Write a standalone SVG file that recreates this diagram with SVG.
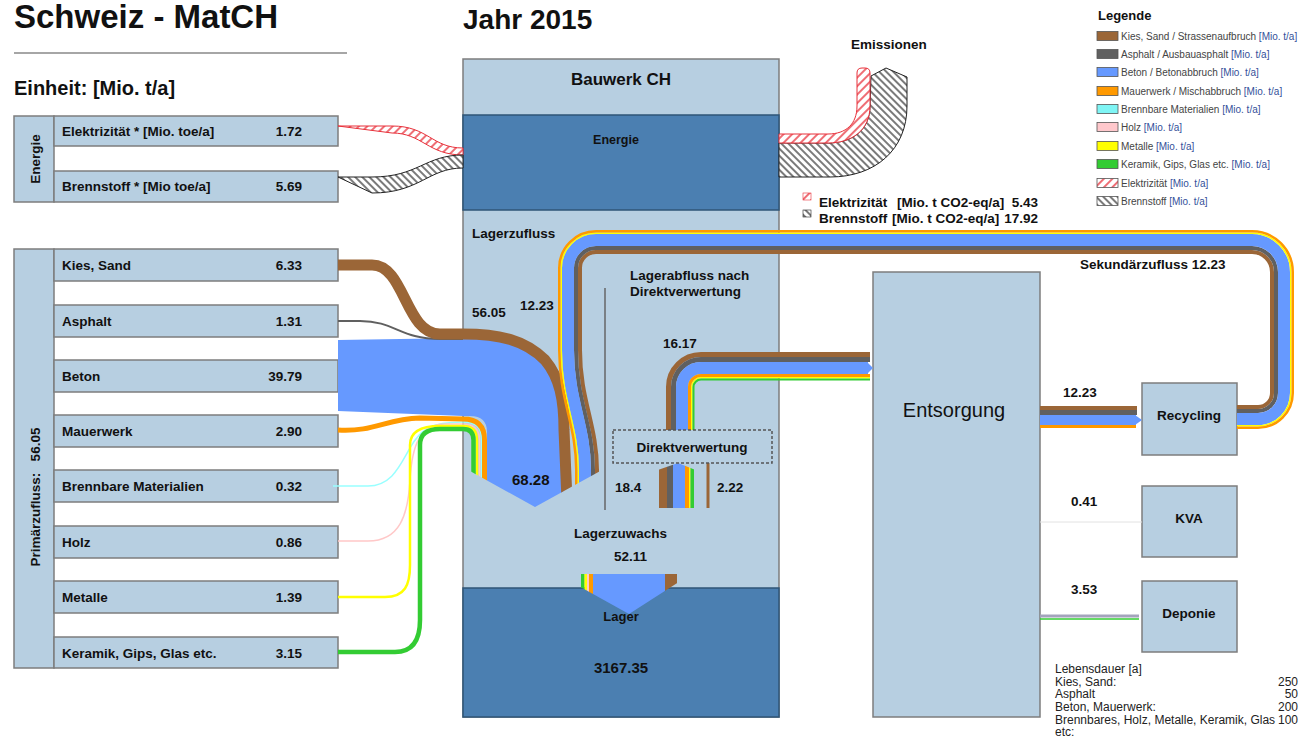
<svg xmlns="http://www.w3.org/2000/svg" width="1305" height="741" viewBox="0 0 1305 741">
<defs>
<style>
text{font-family:'Liberation Sans',Arial,sans-serif;fill:#111}
.b{font-weight:bold;font-size:13.5px}
.node{fill:#b7cfe1;stroke:#7d7d7d;stroke-width:1.5}
.dark{fill:#4b7fb1;stroke:#2f5577;stroke-width:1.5}
.f{fill:none}
.kies{stroke:#9b6637}
.asph{stroke:#606060}
.beton{stroke:#6699ff}
.mauer{stroke:#ff9900}
.brenn{stroke:#99ffff}
.holz{stroke:#ffc8c8}
.met{stroke:#ffff00}
.ker{stroke:#33cc33}
.lg{font-size:10px;fill:#444}
.lg tspan{fill:#34509a}
.lw{font-size:12px;fill:#222}
.sw{stroke:#555;stroke-width:0.8}
</style>
<pattern id="hatchR" patternUnits="userSpaceOnUse" width="6" height="6" patternTransform="rotate(45)">
<rect width="6" height="6" fill="#fff"/><line x1="1" y1="0" x2="1" y2="6" stroke="#e8303a" stroke-width="1.4"/>
</pattern>
<pattern id="hatchK" patternUnits="userSpaceOnUse" width="5" height="5" patternTransform="rotate(-45)">
<rect width="5" height="5" fill="#fff"/><line x1="1" y1="0" x2="1" y2="5" stroke="#222" stroke-width="1.2"/>
</pattern>
<clipPath id="funnel"><polygon points="330,200 640,200 640,449 535,507 470,471 440,455 440,741 330,741"/></clipPath>
<clipPath id="loopclip"><polygon points="540,0 1305,0 1305,741 700,741 700,416 535,507"/></clipPath>
<clipPath id="zuwachs"><polygon points="575,570 685,570 685,578 629,614 575,584"/></clipPath>
<clipPath id="direkt"><polygon points="655,471 678,463 698,471 698,510 655,510"/></clipPath>
</defs>
<rect width="1305" height="741" fill="#fff"/>

<g id="header">
<text x="14" y="28" font-size="33" font-weight="bold">Schweiz - MatCH</text>
<line x1="14" y1="53" x2="347" y2="53" stroke="#888" stroke-width="1.5"/>
<text x="14" y="95" font-size="20" font-weight="bold">Einheit: [Mio. t/a]</text>
<text x="463" y="29" font-size="28" font-weight="bold">Jahr 2015</text>
</g>

<g id="energie-panel">
<rect class="node" x="14" y="116" width="40" height="86"/>
<text class="b" transform="translate(40,159) rotate(-90)" text-anchor="middle">Energie</text>
<rect class="node" x="54" y="116" width="284" height="30"/>
<text class="b" x="62" y="136">Elektrizität * [Mio. toe/a]</text>
<text class="b" x="302" y="136" text-anchor="end">1.72</text>
<rect class="node" x="54" y="171" width="284" height="31"/>
<text class="b" x="62" y="191">Brennstoff * [Mio toe/a]</text>
<text class="b" x="302" y="191" text-anchor="end">5.69</text>
</g>

<g id="primaer-panel">
<rect class="node" x="14" y="249" width="40" height="419"/>
<text class="b" transform="translate(40,497) rotate(-90)" text-anchor="middle" style="white-space:pre">Primärzufluss:   56.05</text>
<g id="row-kies"><rect class="node" x="54" y="249" width="284" height="32"/><text class="b" x="62" y="270">Kies, Sand</text><text class="b" x="302" y="270" text-anchor="end">6.33</text></g>
<g id="row-asphalt"><rect class="node" x="54" y="305" width="284" height="32"/><text class="b" x="62" y="326">Asphalt</text><text class="b" x="302" y="326" text-anchor="end">1.31</text></g>
<g id="row-beton"><rect class="node" x="54" y="360" width="284" height="32"/><text class="b" x="62" y="381">Beton</text><text class="b" x="302" y="381" text-anchor="end">39.79</text></g>
<g id="row-mauerwerk"><rect class="node" x="54" y="415" width="284" height="32"/><text class="b" x="62" y="436">Mauerwerk</text><text class="b" x="302" y="436" text-anchor="end">2.90</text></g>
<g id="row-brennbar"><rect class="node" x="54" y="470" width="284" height="32"/><text class="b" x="62" y="491">Brennbare Materialien</text><text class="b" x="302" y="491" text-anchor="end">0.32</text></g>
<g id="row-holz"><rect class="node" x="54" y="526" width="284" height="32"/><text class="b" x="62" y="547">Holz</text><text class="b" x="302" y="547" text-anchor="end">0.86</text></g>
<g id="row-metalle"><rect class="node" x="54" y="581" width="284" height="32"/><text class="b" x="62" y="602">Metalle</text><text class="b" x="302" y="602" text-anchor="end">1.39</text></g>
<g id="row-keramik"><rect class="node" x="54" y="637" width="284" height="31"/><text class="b" x="62" y="658">Keramik, Gips, Glas etc.</text><text class="b" x="302" y="658" text-anchor="end">3.15</text></g>
</g>

<g id="bauwerk">
<rect class="node" x="463" y="59" width="316" height="658"/>
<rect class="dark" x="463" y="115" width="316" height="95"/>
<rect class="dark" x="463" y="588" width="316" height="129"/>
<text x="621" y="85" font-size="17" font-weight="bold" text-anchor="middle">Bauwerk CH</text>
<text x="616" y="144" font-size="12.5" font-weight="bold" text-anchor="middle">Energie</text>
</g>

<g id="entsorgung"><rect class="node" x="873" y="272" width="167" height="445"/><text x="954" y="417" font-size="20" text-anchor="middle">Entsorgung</text></g>
<g id="recycling"><rect class="node" x="1142" y="383" width="95" height="72"/><text class="b" x="1189" y="420" text-anchor="middle">Recycling</text></g>
<g id="kva"><rect class="node" x="1142" y="486" width="95" height="71"/><text class="b" x="1189" y="523" text-anchor="middle">KVA</text></g>
<g id="deponie"><rect class="node" x="1142" y="581" width="95" height="71"/><text class="b" x="1189" y="618" text-anchor="middle">Deponie</text></g>

<g id="connectors">
<!-- energy inputs -->
<path fill="url(#hatchR)" stroke="#e8303a" stroke-width="1" d="M338,126 L392,126 C428,126 432,148 463,148 L463,155 C428,155 422,133 392,133 Z"/>
<path fill="url(#hatchK)" stroke="#222" stroke-width="1" d="M338,177 L372,177 C418,177 425,155 463,155 L463,168 C428,168 420,193 372,193 Z"/>
<!-- emissions -->
<path fill="url(#hatchK)" stroke="#222" stroke-width="1" d="M779,143 L828,143 C852,143 870,130 870,106 L871,76 L886,68 L907,77 L907,106 C907,150 875,177 830,177 L779,177 Z"/>
<path fill="url(#hatchR)" stroke="#e8303a" stroke-width="1" d="M779,134 L828,134 C846,134 857,124 857,106 L857,73 Q857,68 862,68 L865,68 Q870,68 870,73 L870,106 C870,130 852,143 828,143 L779,143 Z"/>

<!-- primary inflows and Lagerzufluss funnel -->
<g clip-path="url(#funnel)">
<path fill="#6699ff" d="M338,340 L463,338 C500,338 522,344 540,362 C555,378 561,400 561,430 L564,500 L535,520 L487,495 L487,432 Q487,416 470,416 L463,416 L338,411 Z"/>
<path class="f brenn" stroke-width="1.5" d="M333,486 L368,486 C392,486 400,465 410,448 C420,430 430,422 463,422 Q481.5,422 481.5,438 L481.5,500"/>
<path class="f holz" stroke-width="1.5" d="M338,541 L368,541 C400,541 408,515 410,480 C412,445 420,424 445,424 L463,424 Q479.5,424 479.5,440 L479.5,500"/>
<path class="f met" stroke-width="2.5" d="M338,597 L385,597 C405,597 410,585 410,565 L410,445 C410,432 420,426 440,426 L463,426 Q477,426 477,440 L477,500"/>
<path class="f ker" stroke-width="4.5" d="M338,652 L395,652 C413,652 420,640 420,620 L420,445 C420,434 427,429 440,429 L463,429 Q473.5,429 473.5,440 L473.5,500"/>
<path class="f mauer" stroke-width="5" d="M338,430 C375,432 385,419 420,418 L463,419 Q484.5,419 484.5,440 L484.5,500"/>
<path class="f asph" stroke-width="2" d="M338,321 L360,321 C395,321 400,339 440,339 L463,339"/>
<path class="f kies" stroke-width="11" d="M338,265 L372,265 C405,265 405,334 440,334 L463,334 C500,334 525,340 545,360 C560,378 564,400 564,430 L567,500"/>
</g>

<!-- Sekundärzufluss loop -->
<g clip-path="url(#loopclip)">
<path class="f kies" stroke-width="4" d="M1237,407 L1258,407 A14,14 0 0 0 1272,393 L1272,272 A20,20 0 0 0 1252,252 L596,252 A16,16 0 0 0 580,268 L580,350 C580,400 597,425 597,470 L597,520"/>
<path class="f asph" stroke-width="4" d="M1237,411 L1258,411 A18,18 0 0 0 1276,393 L1276,272 A24,24 0 0 0 1252,248 L596,248 A20,20 0 0 0 576,268 L576,350 C576,400 593,425 593,470 L593,520"/>
<path class="f beton" stroke-width="12" d="M1237,419 L1258,419 A26,26 0 0 0 1284,393 L1284,272 A32,32 0 0 0 1252,240 L596,240 A28,28 0 0 0 568,268 L568,350 C568,400 585,425 585,470 L585,520"/>
<path class="f met" stroke-width="1.5" d="M1237,425.75 L1258,425.75 A32.75,32.75 0 0 0 1290.75,393 L1290.75,272 A38.75,38.75 0 0 0 1252,233.25 L596,233.25 A34.75,34.75 0 0 0 561.25,268 L561.25,350 C561.25,400 578.25,425 578.25,470 L578.25,520"/>
<path class="f mauer" stroke-width="2.5" d="M1237,427.75 L1258,427.75 A34.75,34.75 0 0 0 1292.75,393 L1292.75,272 A40.75,40.75 0 0 0 1252,231.25 L596,231.25 A36.75,36.75 0 0 0 559.25,268 L559.25,350 C559.25,400 576.25,425 576.25,470 L576.25,520"/>
</g>

<!-- Lagerabfluss nach Direktverwertung 16.17 -->
<path class="f kies" stroke-width="5" d="M668.5,430 L668.5,387 A32.5,32.5 0 0 1 701,354.5 L870,354.5"/>
<path class="f asph" stroke-width="5" d="M673.5,430 L673.5,387 A27.5,27.5 0 0 1 701,359.5 L870,359.5"/>
<path class="f beton" stroke-width="12" d="M682,430 L682,387 A19,19 0 0 1 701,368 L868,368"/>
<polygon fill="#6699ff" points="867,362 873,368 867,374"/>
<path class="f mauer" stroke-width="3" d="M689.5,430 L689.5,387 A11.5,11.5 0 0 1 701,375.5 L870,375.5"/>
<path class="f met" stroke-width="1.5" d="M691.75,430 L691.75,387 A9.25,9.25 0 0 1 701,377.75 L870,377.75"/>
<path class="f ker" stroke-width="2" d="M693.5,430 L693.5,387 A7.5,7.5 0 0 1 701,379.5 L870,379.5"/>

<!-- Direktverwertung outflow 18.4 and 2.22 -->
<g clip-path="url(#direkt)">
<rect x="659" y="460" width="8" height="48" fill="#9b6637"/>
<rect x="667" y="460" width="6" height="48" fill="#606060"/>
<rect x="673" y="460" width="12" height="48" fill="#6699ff"/>
<rect x="685" y="460" width="4" height="48" fill="#ff9900"/>
<rect x="689" y="460" width="1.5" height="48" fill="#ffff00"/>
<rect x="690.5" y="460" width="3.5" height="48" fill="#33cc33"/>
</g>
<line x1="708" y1="463" x2="708" y2="508" class="kies" stroke-width="3"/>
<line x1="605" y1="288" x2="605" y2="510" stroke="#666" stroke-width="1.5"/>

<!-- Lagerzuwachs 52.11 -->
<g clip-path="url(#zuwachs)">
<rect x="581" y="574" width="3.5" height="46" fill="#33cc33"/>
<rect x="584.5" y="574" width="2.5" height="46" fill="#ffff00"/>
<rect x="587" y="574" width="2" height="46" fill="#ffc8c8"/>
<rect x="589" y="574" width="4" height="46" fill="#ff9900"/>
<rect x="593" y="574" width="72" height="46" fill="#6699ff"/>
<rect x="665" y="574" width="12" height="46" fill="#9b6637"/>
</g>

<!-- Entsorgung outflows -->
<line x1="1040" y1="408" x2="1137" y2="408" class="kies" stroke-width="4"/>
<line x1="1040" y1="412.5" x2="1137" y2="412.5" class="asph" stroke-width="5"/>
<line x1="1040" y1="420" x2="1136" y2="420" class="beton" stroke-width="10"/>
<polygon fill="#6699ff" points="1135,415 1142,420 1135,425"/>
<line x1="1040" y1="426.5" x2="1136" y2="426.5" class="mauer" stroke-width="3"/>
<line x1="1040" y1="522" x2="1142" y2="522" stroke="#e2e2e2" stroke-width="1"/>
<line x1="1040" y1="616" x2="1139" y2="616" stroke="#a4a4bc" stroke-width="3"/>
<line x1="1040" y1="619" x2="1139" y2="619" class="ker" stroke-width="1.5"/>
</g>

<g id="direktverwertung">
<rect x="613" y="430" width="159" height="33" fill="none" stroke="#555" stroke-width="1.5" stroke-dasharray="3,2"/>
<text class="b" x="692" y="452" text-anchor="middle">Direktverwertung</text>
</g>

<g id="lager">
<text x="621" y="621" font-size="13" font-weight="bold" text-anchor="middle">Lager</text>
<text x="621" y="673" font-size="15" font-weight="bold" text-anchor="middle">3167.35</text>
</g>

<g id="flow-labels">
<text class="b" x="472" y="238">Lagerzufluss</text>
<text class="b" x="472" y="317">56.05</text>
<text class="b" x="520" y="310">12.23</text>
<text class="b" x="630" y="280">Lagerabfluss nach</text>
<text class="b" x="630" y="296">Direktverwertung</text>
<text class="b" x="663" y="348" font-size="12">16.17</text>
<text x="512" y="485" font-size="15" font-weight="bold">68.28</text>
<text class="b" x="615" y="492">18.4</text>
<text class="b" x="717" y="492">2.22</text>
<text class="b" x="574" y="538">Lagerzuwachs</text>
<text class="b" x="614" y="561">52.11</text>
<text class="b" x="1080" y="269" font-size="12.5">Sekundärzufluss 12.23</text>
<text class="b" x="1063" y="397">12.23</text>
<text class="b" x="1071" y="506">0.41</text>
<text class="b" x="1071" y="594">3.53</text>
</g>

<g id="emissionen">
<text class="b" x="851" y="49" font-size="12.5">Emissionen</text>
<rect x="803" y="193" width="8" height="7" fill="url(#hatchR)" stroke="#e8303a" stroke-width="0.6"/>
<rect x="803" y="210" width="8" height="7" fill="url(#hatchK)" stroke="#222" stroke-width="0.6"/>
<text class="b" x="819" y="207" font-size="12.5">Elektrizität</text>
<text class="b" x="897" y="207" font-size="12.5">[Mio. t CO2-eq/a]</text>
<text class="b" x="1038" y="207" font-size="12.5" text-anchor="end">5.43</text>
<text class="b" x="819" y="223" font-size="12.5">Brennstoff</text>
<text class="b" x="892" y="223" font-size="12.5">[Mio. t CO2-eq/a]</text>
<text class="b" x="1038" y="223" font-size="12.5" text-anchor="end">17.92</text>
</g>

<g id="legende">
<text x="1098" y="20" font-size="13" font-weight="bold">Legende</text>
<rect class="sw" x="1097" y="31.5" width="21" height="9" fill="#9b6637"/><text class="lg" x="1121" y="39.5">Kies, Sand / Strassenaufbruch <tspan>[Mio. t/a]</tspan></text>
<rect class="sw" x="1097" y="49.5" width="21" height="9" fill="#606060"/><text class="lg" x="1121" y="57.5">Asphalt / Ausbauasphalt <tspan>[Mio. t/a]</tspan></text>
<rect class="sw" x="1097" y="67.5" width="21" height="9" fill="#6699ff"/><text class="lg" x="1121" y="75.5">Beton / Betonabbruch <tspan>[Mio. t/a]</tspan></text>
<rect class="sw" x="1097" y="86.5" width="21" height="9" fill="#ff9900"/><text class="lg" x="1121" y="94.5">Mauerwerk / Mischabbruch <tspan>[Mio. t/a]</tspan></text>
<rect class="sw" x="1097" y="104.5" width="21" height="9" fill="#7ff5f5"/><text class="lg" x="1121" y="112.5">Brennbare Materialien <tspan>[Mio. t/a]</tspan></text>
<rect class="sw" x="1097" y="122.5" width="21" height="9" fill="#ffc8cc"/><text class="lg" x="1121" y="130.5">Holz <tspan>[Mio. t/a]</tspan></text>
<rect class="sw" x="1097" y="141.5" width="21" height="9" fill="#ffff00"/><text class="lg" x="1121" y="149.5">Metalle <tspan>[Mio. t/a]</tspan></text>
<rect class="sw" x="1097" y="159.5" width="21" height="9" fill="#33cc33"/><text class="lg" x="1121" y="167.5">Keramik, Gips, Glas etc. <tspan>[Mio. t/a]</tspan></text>
<rect class="sw" x="1097" y="178.5" width="21" height="9" fill="url(#hatchR)"/><text class="lg" x="1121" y="186.5">Elektrizität <tspan>[Mio. t/a]</tspan></text>
<rect class="sw" x="1097" y="196.5" width="21" height="9" fill="url(#hatchK)"/><text class="lg" x="1121" y="204.5">Brennstoff <tspan>[Mio. t/a]</tspan></text>
</g>

<g id="lebensdauer">
<text class="lw" x="1055" y="673">Lebensdauer [a]</text>
<text class="lw" x="1055" y="686">Kies, Sand:</text><text class="lw" x="1298" y="686" text-anchor="end">250</text>
<text class="lw" x="1055" y="698">Asphalt</text><text class="lw" x="1298" y="698" text-anchor="end">50</text>
<text class="lw" x="1055" y="711">Beton, Mauerwerk:</text><text class="lw" x="1298" y="711" text-anchor="end">200</text>
<text class="lw" x="1055" y="724">Brennbares, Holz, Metalle, Keramik, Glas</text><text class="lw" x="1298" y="724" text-anchor="end">100</text>
<text class="lw" x="1055" y="736">etc:</text>
</g>
</svg>
